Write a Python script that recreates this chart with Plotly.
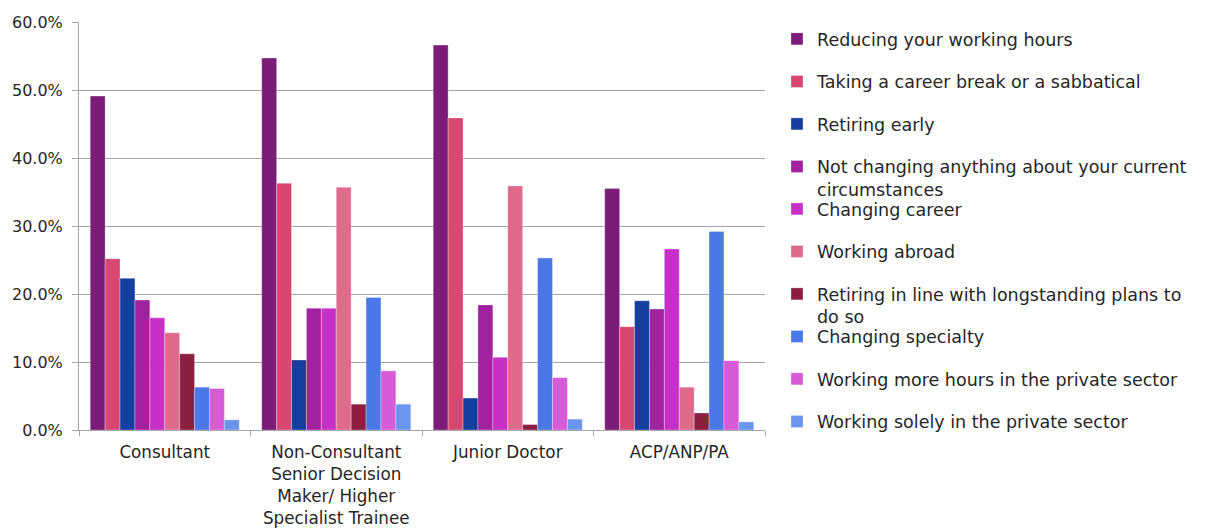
import plotly.graph_objects as go

categories = ["Consultant",
              "Non-Consultant<br>Senior Decision<br>Maker/ Higher<br>Specialist Trainee",
              "Junior Doctor",
              "ACP/ANP/PA"]

series_names = [
    "Reducing your working hours",
    "Taking a career break or a sabbatical",
    "Retiring early",
    "Not changing anything about your current<br>circumstances",
    "Changing career",
    "Working abroad",
    "Retiring in line with longstanding plans to<br>do so",
    "Changing specialty",
    "Working more hours in the private sector",
    "Working solely in the private sector",
]

reducing_hours = [49.1, 54.7, 56.6, 35.5]
career_break = [25.2, 36.3, 45.9, 15.2]
retiring_early = [22.3, 10.3, 4.7, 19.0]
not_changing = [19.1, 17.9, 18.4, 17.8]
changing_career = [16.5, 17.9, 10.7, 26.6]
working_abroad = [14.3, 35.7, 35.9, 6.3]
retiring_planned = [11.2, 3.8, 0.8, 2.5]
changing_specialty = [6.3, 19.5, 25.3, 29.2]
more_private = [6.1, 8.7, 7.7, 10.2]
solely_private = [1.5, 3.8, 1.6, 1.2]

series_values = [reducing_hours, career_break, retiring_early, not_changing,
                 changing_career, working_abroad, retiring_planned,
                 changing_specialty, more_private, solely_private]

colors = ["#7B1C78", "#D64872", "#163E9E", "#A0229E", "#C630C6",
          "#DE6B8C", "#8B1F42", "#4A78E6", "#D65BD6", "#6B94EC"]

y_ticks = [0, 10, 20, 30, 40, 50, 60]

FONT = "DejaVu Sans"
TXT = "#262626"
GRID = "#A6A6A6"

# plot area geometry (pixels)
W, H = 1209, 530
ML, MR, MT, MB = 79, 444, 22, 100
PH = H - MT - MB

fig = go.Figure()
layout_legends = {}
for i, (name, vals, col) in enumerate(zip(series_names, series_values, colors)):
    key = "legend" if i == 0 else f"legend{i + 1}"
    fig.add_trace(go.Bar(
        x=categories, y=vals, name=name, legend=key,
        marker=dict(color=col, line=dict(width=0.6, color="rgba(255,255,255,0.5)")),
    ))
    first_line_center = 41 + 42.5 * i
    top_px = first_line_center - 20
    layout_legends[key] = dict(
        x=1.0175, xanchor="left",
        y=1 - (top_px - MT) / PH, yanchor="top",
        valign="top", font=dict(family=FONT, size=17.5, color=TXT),
        itemwidth=30, bgcolor="rgba(0,0,0,0)",
    )

fig.update_layout(
    width=W, height=H,
    margin=dict(l=ML, r=MR, t=MT, b=MB, autoexpand=False),
    paper_bgcolor="white", plot_bgcolor="white",
    barmode="group", bargap=0.131, bargroupgap=0,
    font=dict(family=FONT, size=17, color=TXT),
    showlegend=True,
    **layout_legends,
)

fig.update_xaxes(
    showline=True, linecolor=GRID, linewidth=1,
    ticks="outside", ticklen=5, tickcolor=GRID, tickson="boundaries",
    ticklabelstandoff=7, automargin=False,
    showgrid=False, tickfont=dict(family=FONT, size=16.8, color=TXT),
)
fig.update_yaxes(
    range=[0, 60], tickvals=y_ticks,
    ticktext=[f"{v:.1f}%" for v in y_ticks],
    showline=True, linecolor=GRID, linewidth=1,
    ticks="outside", ticklen=6, tickcolor=GRID,
    ticklabelstandoff=6, automargin=False,
    showgrid=True, gridcolor=GRID, gridwidth=1,
    zeroline=False, tickfont=dict(family=FONT, size=16, color=TXT),
)

fig.write_html("out.html")
